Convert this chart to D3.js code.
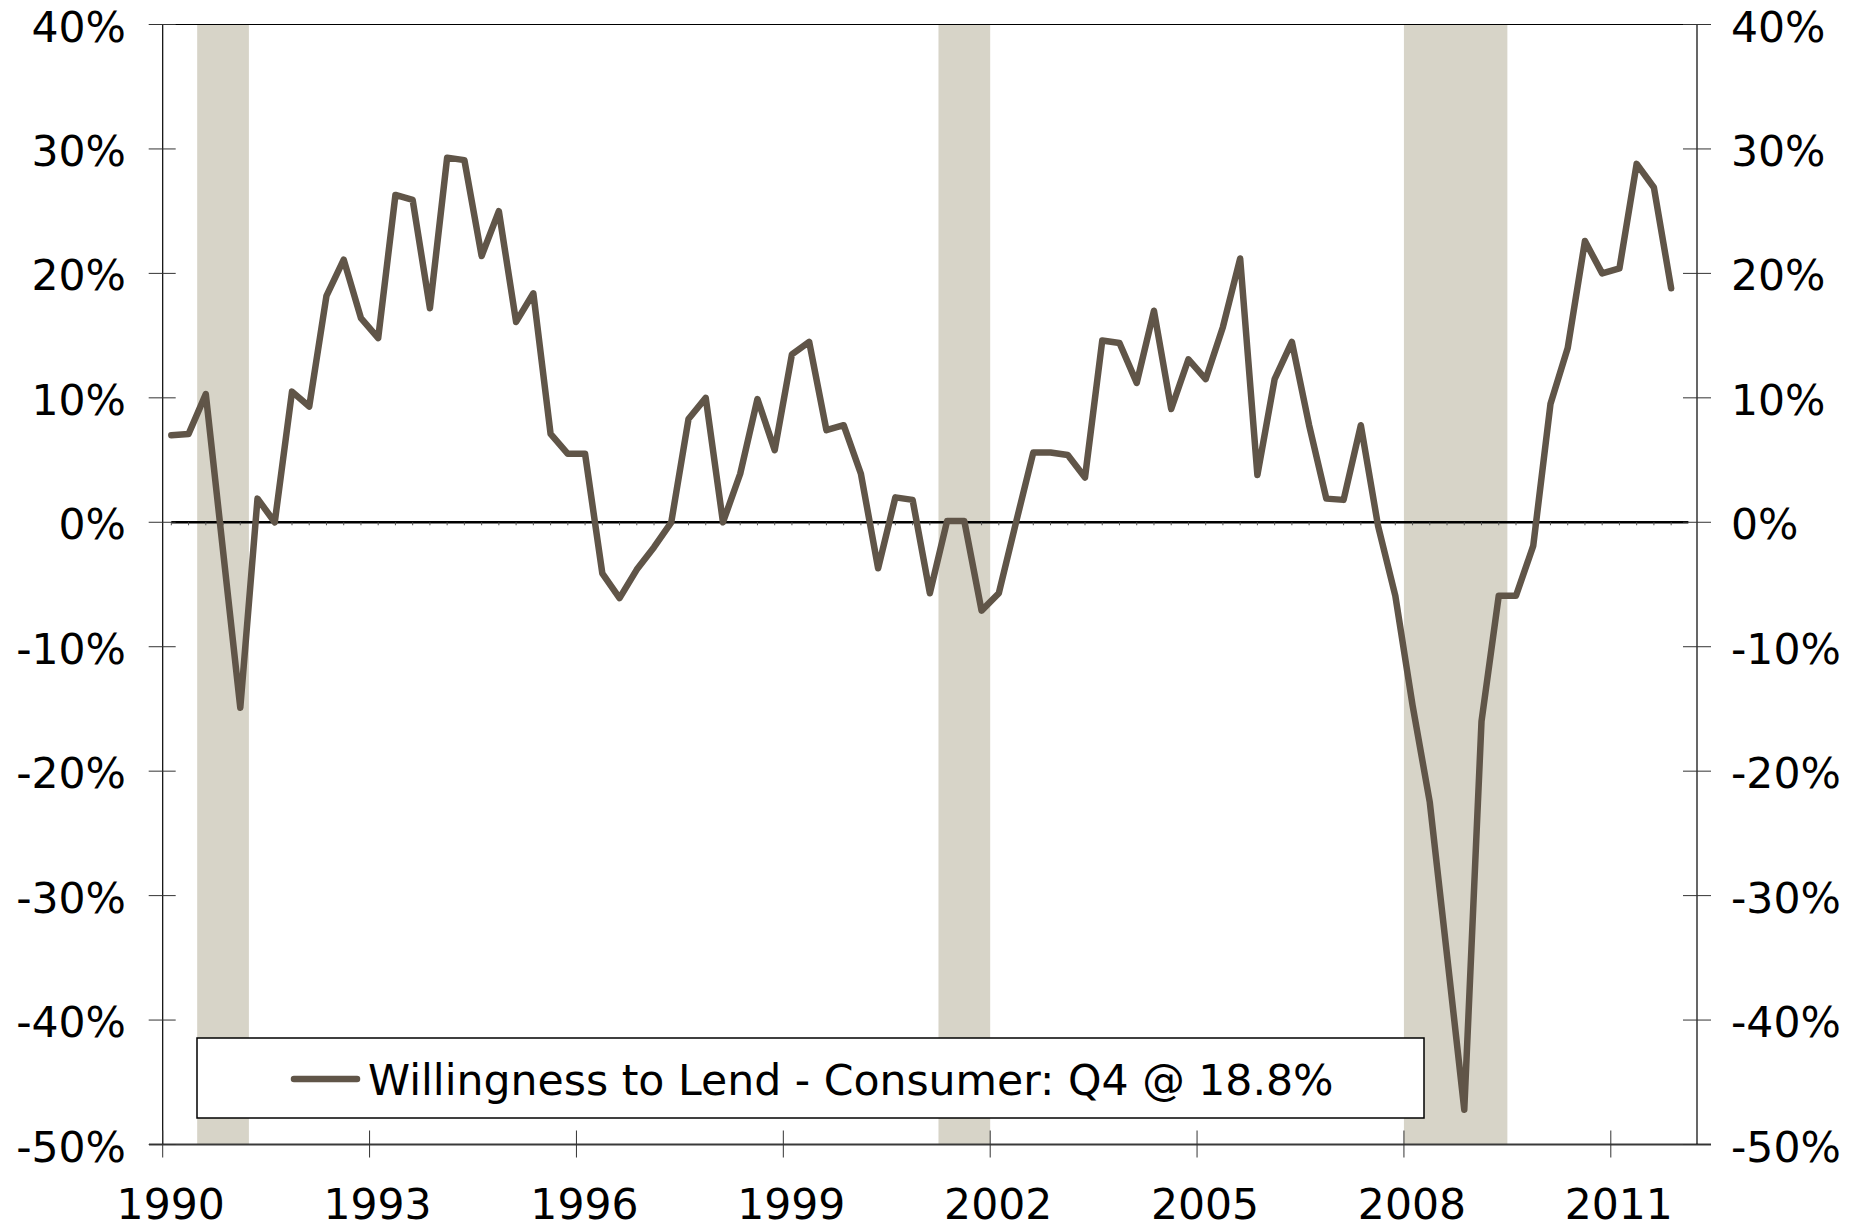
<!DOCTYPE html>
<html>
<head>
<meta charset="utf-8">
<script src="https://cdn.jsdelivr.net/npm/d3@7"></script>
<style>
  body { margin: 0; background: #fff; }
  text { font-family: "DejaVu Sans", Verdana, sans-serif; fill: #000; }
</style>
</head>
<body>
<div id="chart"></div>
<script>
// Quarterly series, 1990 Q1 .. 2011 Q4
const startYear = 1990;
const willingness = [
  7.0, 7.1, 10.3, -2.3, -14.9, 1.9, 0.0, 10.5,        // 1990-1991
  9.3, 18.2, 21.1, 16.4, 14.8, 26.3, 25.9, 17.2,      // 1992-1993
  29.3, 29.1, 21.4, 25.0, 16.1, 18.4, 7.1, 5.5,       // 1994-1995
  5.5, -4.1, -6.1, -3.8, -2.0, 0.0, 8.3, 10.0,        // 1996-1997
  0.0, 3.9, 9.9, 5.8, 13.5, 14.5, 7.4, 7.8,           // 1998-1999
  3.9, -3.7, 2.0, 1.8, -5.7, 0.1, 0.1, -7.1,          // 2000-2001
  -5.7, 0.0, 5.6, 5.6, 5.4, 3.6, 14.6, 14.4,          // 2002-2003
  11.2, 17.0, 9.1, 13.1, 11.5, 15.7, 21.2, 3.8,       // 2004-2005
  11.5, 14.5, 7.8, 1.9, 1.8, 7.8, -0.3, -5.9,         // 2006-2007
  -14.7, -22.5, -34.8, -47.2, -16.0, -5.9, -5.9, -1.9, // 2008-2009
  9.5, 14.0, 22.6, 20.0, 20.4, 28.8, 26.9, 18.8       // 2010-2011
];

// Recession periods (shaded)
const recessions = [[1990.5, 1991.25], [2001.25, 2002.0], [2008.0, 2009.5]];

const yTicks = [40, 30, 20, 10, 0, -10, -20, -30, -40, -50];
const xTicks = [1990, 1993, 1996, 1999, 2002, 2005, 2008, 2011];
const legendLabel = "Willingness to Lend - Consumer: Q4 @ 18.8%";

const width = 1872, height = 1228;
const lineColor = "#605548", shadeColor = "#d7d4c8";

const svg = d3.select("#chart").append("svg")
  .attr("width", width)
  .attr("height", height);

const x = d3.scaleLinear().domain([1990, 2012.25]).range([162.7, 1697]);
const y = d3.scaleLinear().domain([-50, 40]).range([1144.5, 24.5]);

const data = willingness.map((v, i) => ({ t: startYear + i / 4 + 0.125, v }));

// Recession bars
svg.append("g")
  .selectAll("rect")
  .data(recessions)
  .join("rect")
  .attr("x", d => x(d[0]))
  .attr("width", d => x(d[1]) - x(d[0]))
  .attr("y", y(40))
  .attr("height", y(-50) - y(40))
  .attr("fill", shadeColor);

// Zero line with small quarter marks
svg.append("line")
  .attr("x1", x(1990.125)).attr("x2", x(2012.125))
  .attr("y1", y(0)).attr("y2", y(0))
  .attr("stroke", "#000").attr("stroke-width", 2.6);

svg.append("g")
  .selectAll("line")
  .data(data)
  .join("line")
  .attr("x1", d => x(d.t)).attr("x2", d => x(d.t))
  .attr("y1", y(0)).attr("y2", y(0) + 3)
  .attr("stroke", "#555").attr("stroke-width", 1);

// Series line
svg.append("path")
  .datum(data)
  .attr("fill", "none")
  .attr("stroke", lineColor)
  .attr("stroke-width", 6.5)
  .attr("stroke-linejoin", "round")
  .attr("stroke-linecap", "round")
  .attr("d", d3.line().x(d => x(d.t)).y(d => y(d.v)));

// Legend
const legend = svg.append("g");
legend.append("rect")
  .attr("x", 197).attr("y", 1038)
  .attr("width", 1227).attr("height", 80)
  .attr("fill", "#fff")
  .attr("stroke", "#000").attr("stroke-width", 1.5);
legend.append("line")
  .attr("x1", 294).attr("x2", 357)
  .attr("y1", 1079).attr("y2", 1079)
  .attr("stroke", lineColor).attr("stroke-width", 6.5)
  .attr("stroke-linecap", "round");
legend.append("text")
  .attr("x", 368).attr("y", 1095)
  .attr("font-size", 42.6)
  .text(legendLabel);

// Frame: top and bottom lines
svg.append("line")
  .attr("x1", 149).attr("x2", 1711)
  .attr("y1", y(40)).attr("y2", y(40))
  .attr("stroke", "#000").attr("stroke-width", 1.2);
svg.append("line")
  .attr("x1", 149).attr("x2", 1711)
  .attr("y1", y(-50)).attr("y2", y(-50))
  .attr("stroke", "#3a3a3a").attr("stroke-width", 2);

// Left axis
const leftAxis = svg.append("g");
leftAxis.append("line")
  .attr("x1", x(1990)).attr("x2", x(1990))
  .attr("y1", y(40)).attr("y2", y(-50))
  .attr("stroke", "#000").attr("stroke-width", 1.2);
leftAxis.selectAll(".tick")
  .data(yTicks)
  .join("line")
  .attr("x1", x(1990) - 14).attr("x2", x(1990) + 13)
  .attr("y1", d => y(d)).attr("y2", d => y(d))
  .attr("stroke", "#333").attr("stroke-width", 1);
leftAxis.selectAll("text")
  .data(yTicks)
  .join("text")
  .attr("x", 126)
  .attr("y", d => y(d) + 17)
  .attr("text-anchor", "end")
  .attr("font-size", 42.5)
  .text(d => d + "%");

// Right axis
const rightAxis = svg.append("g");
rightAxis.append("line")
  .attr("x1", x(2012.25)).attr("x2", x(2012.25))
  .attr("y1", y(40)).attr("y2", y(-50))
  .attr("stroke", "#000").attr("stroke-width", 1.2);
rightAxis.selectAll(".tick")
  .data(yTicks)
  .join("line")
  .attr("x1", x(2012.25) - 14).attr("x2", x(2012.25) + 14)
  .attr("y1", d => y(d)).attr("y2", d => y(d))
  .attr("stroke", "#333").attr("stroke-width", 1);
rightAxis.selectAll("text")
  .data(yTicks)
  .join("text")
  .attr("x", 1731)
  .attr("y", d => y(d) + 17)
  .attr("font-size", 42.5)
  .text(d => d + "%");

// Bottom axis
const bottomAxis = svg.append("g");
bottomAxis.selectAll("line")
  .data(xTicks)
  .join("line")
  .attr("x1", d => x(d)).attr("x2", d => x(d))
  .attr("y1", y(-50) - 14).attr("y2", y(-50) + 13)
  .attr("stroke", "#333").attr("stroke-width", 1);
bottomAxis.selectAll("text")
  .data(xTicks)
  .join("text")
  .attr("x", d => x(d) + 8)
  .attr("y", 1219)
  .attr("text-anchor", "middle")
  .attr("font-size", 42.5)
  .text(d => d);
</script>
</body>
</html>
